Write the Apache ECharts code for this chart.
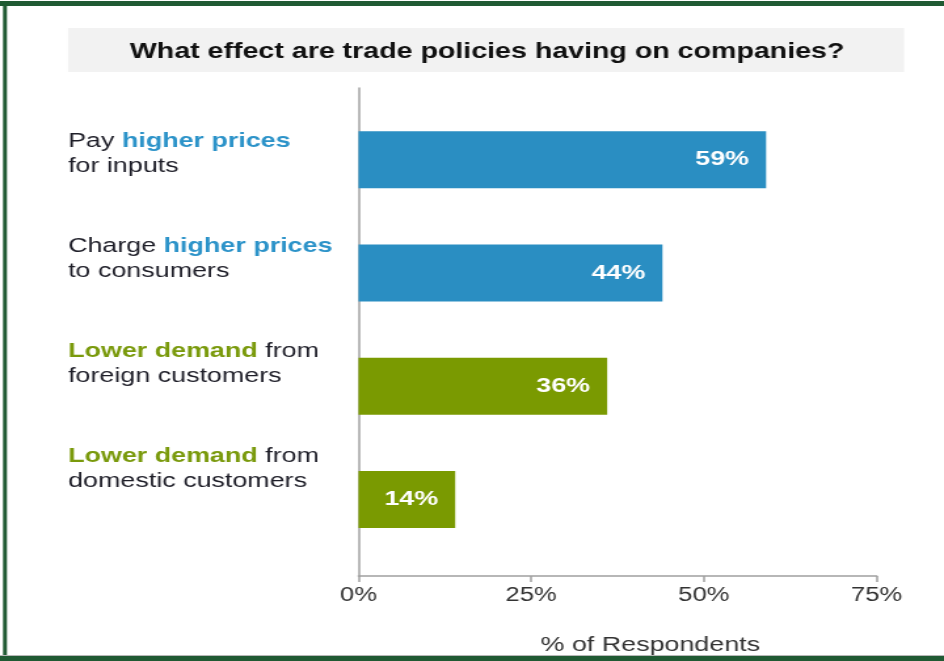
<!DOCTYPE html>
<html>
<head>
<meta charset="utf-8">
<script src="https://cdn.jsdelivr.net/npm/echarts@6/dist/echarts.min.js"></script>
<style>
  html, body { margin: 0; padding: 0; background: #fff; overflow: hidden; }
  #frame { width: 944px; height: 661px; overflow: hidden; position: relative; }
  /* the chart is laid out narrow and widened, giving the wide lettering of the original slide */
  #chart { width: 720px; height: 661px; transform: scaleX(1.3111); transform-origin: 0 0; }
</style>
</head>
<body>
<div id="frame"><div id="chart"></div></div>
<script>
// Survey answers, top to bottom
const categories = [
  'Pay {hb|higher prices}\nfor inputs',
  'Charge {hb|higher prices}\nto consumers',
  '{hg|Lower demand} from\nforeign customers',
  '{hg|Lower demand} from\ndomestic customers'
];
const shares = [59, 44, 36, 14];           // % of respondents
const barColors = ['#2A8EC2', '#2A8EC2', '#7A9A01', '#7A9A01'];
const xTicks = [0, 25, 50, 75];

const BLUE_TXT = '#2C93C9';
const GREEN_TXT = '#7A9A0C';
const INK = '#1E1E28';
const FONT = '"Liberation Sans", Arial, sans-serif';

const chart = echarts.init(document.getElementById('chart'), null, { renderer: 'canvas' });

const gridLeft = 273.4, gridRight = 51.4;

chart.setOption({
  backgroundColor: '#ffffff',
  animation: false,
  title: {
    text: 'What effect are trade policies having on companies?',
    left: 99,
    top: 41,
    padding: 0,
    textStyle: { fontFamily: FONT, fontSize: 21.8, fontWeight: 'bold', color: '#111' }
  },
  graphic: [
    { type: 'rect', z: -1, shape: { x: 51.9, y: 28, width: 637.6, height: 44 }, style: { fill: '#F2F2F2' } },
    { type: 'rect', shape: { x: 0, y: 1, width: 720, height: 5 }, style: { fill: '#205A33' } },
    { type: 'rect', shape: { x: 2.3, y: 1, width: 3, height: 660 }, style: { fill: '#205A33' } },
    { type: 'rect', shape: { x: 0, y: 655, width: 720, height: 1 }, style: { fill: '#B8B8B8' } },
    { type: 'rect', shape: { x: 0, y: 656, width: 720, height: 5 }, style: { fill: '#205A33' } }
  ],
  grid: [
    // frame: value axis with ticks, plus the tall vertical axis line
    { left: gridLeft, right: gridRight, top: 88, bottom: 84 },
    // bars
    { left: gridLeft, right: gridRight, top: 103, height: 453 },
    // answer texts, on a slightly tighter pitch than the bars
    { left: gridLeft, right: gridRight, top: 101, height: 420 }
  ],
  xAxis: [
    {
      gridIndex: 0, type: 'value', min: xTicks[0], max: xTicks[xTicks.length - 1], interval: 25,
      axisLine: { show: true, lineStyle: { color: '#A0A0A0', width: 1.5 } },
      axisTick: { show: true, length: 6, lineStyle: { color: '#A0A0A0', width: 1.5 } },
      splitLine: { show: false },
      axisLabel: { formatter: '{value}%', margin: 10, fontFamily: FONT, fontSize: 19.5, color: '#333' },
      name: '% of Respondents',
      nameLocation: 'middle',
      nameGap: 59,
      nameTextStyle: { fontFamily: FONT, fontSize: 20.5, color: '#333', padding: [0, 0, 0, 50] }
    },
    { gridIndex: 1, type: 'value', min: 0, max: 75, show: false },
    { gridIndex: 2, type: 'value', min: 0, max: 75, show: false }
  ],
  yAxis: [
    {
      gridIndex: 0, type: 'value', min: 0, max: 1,
      axisLine: { show: true, lineStyle: { color: '#A0A0A0', width: 1.5 } },
      axisTick: { show: false }, axisLabel: { show: false }, splitLine: { show: false }
    },
    {
      gridIndex: 1, type: 'category', inverse: true, data: categories,
      axisLine: { show: false }, axisTick: { show: false }, axisLabel: { show: false }
    },
    {
      gridIndex: 2, type: 'category', inverse: true, data: categories,
      axisLine: { show: false }, axisTick: { show: false },
      axisLabel: {
        align: 'left',
        margin: 221.5,
        fontFamily: FONT, fontSize: 20.5, lineHeight: 25, color: INK,
        rich: {
          hb: { fontFamily: FONT, fontSize: 20.5, lineHeight: 25, fontWeight: 'bold', color: BLUE_TXT },
          hg: { fontFamily: FONT, fontSize: 20.5, lineHeight: 25, fontWeight: 'bold', color: GREEN_TXT }
        }
      }
    }
  ],
  series: [{
    type: 'bar',
    xAxisIndex: 1, yAxisIndex: 1,
    barWidth: 57,
    data: shares.map((v, i) => ({ value: v, itemStyle: { color: barColors[i] } })),
    label: {
      show: true, position: 'insideRight', distance: 13,
      formatter: '{c}%',
      fontFamily: FONT, fontSize: 20.5, fontWeight: 'bold', color: '#fff'
    }
  }]
});
</script>
</body>
</html>
